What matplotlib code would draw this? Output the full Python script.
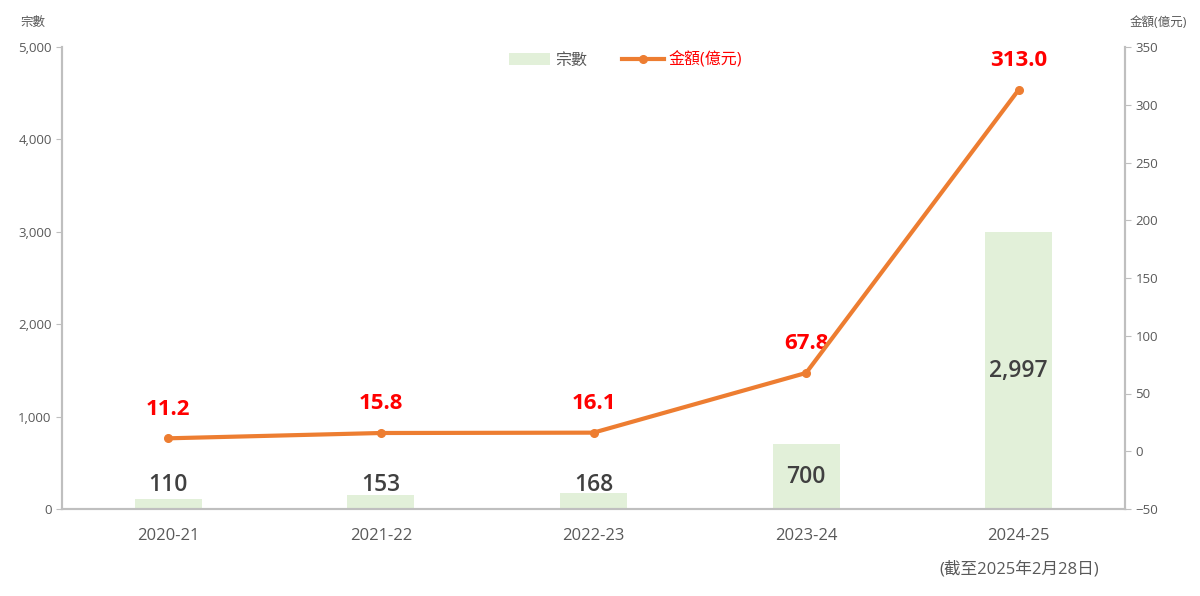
import matplotlib.pyplot as plt
from matplotlib.ticker import FuncFormatter
import numpy as np

plt.rcParams['font.family'] = ['Open Sans', 'Noto Sans CJK TC', 'DejaVu Sans']

# data
years = ['2020-21', '2021-22', '2022-23', '2023-24', '2024-25\n(截至2025年2月28日)']
cases = [110, 153, 168, 700, 2997]
amount = [11.2, 15.8, 16.1, 67.8, 313.0]

grey = '#595959'
axis_grey = '#BFBFBF'
bar_green = '#E2F0D9'
orange = '#ED7D31'

fig = plt.figure(figsize=(12, 5.96), dpi=100)
ax = fig.add_axes([62 / 1200, 87 / 596, 1063 / 1200, 462 / 596])
ax2 = ax.twinx()

x = np.arange(len(years))
ax.bar(x, cases, width=0.315, color=bar_green, zorder=1, label='宗數')
for xi, v in zip(x, cases):
    ax.text(xi, max(v / 2, 265), f'{v:,}', ha='center', va='center',
            fontsize=16.5, fontweight='semibold', color='#404040', zorder=3)

ax.set_xlim(-0.5, len(years) - 0.5)
ax.set_ylim(0, 5000)
ax.set_yticks(range(0, 5001, 1000))
ax.yaxis.set_major_formatter(FuncFormatter(lambda v, p: f'{int(v):,}'))
ax.set_xticks(x)
ax.set_xticklabels(years, fontsize=12, color=grey, linespacing=2.3)
ax.tick_params(axis='x', length=0, pad=14)
ax.tick_params(axis='y', length=4, color=axis_grey, labelsize=9.5, labelcolor=grey, direction='out')

ax2.plot(x, amount, color=orange, lw=3, marker='o', ms=5.5, zorder=4, label='金額(億元)')
for xi, v in zip(x, amount):
    ax2.annotate(f'{v:.1f}', (xi, v), xytext=(0, 21), textcoords='offset points',
                 ha='center', va='center', fontsize=16, fontweight='bold', color='#FF0000')
ax2.set_ylim(-50, 350)
ax2.set_yticks(range(-50, 351, 50))
ax2.tick_params(axis='y', length=4, color=axis_grey, labelsize=9.5, labelcolor=grey, direction='out')

ax.set_zorder(ax2.get_zorder() - 1)
ax2.patch.set_visible(False)

for a in (ax, ax2):
    a.spines['top'].set_visible(False)
    for s in ('left', 'right', 'bottom'):
        a.spines[s].set_color(axis_grey)
        a.spines[s].set_linewidth(1.5)

fig.text(20 / 1200, 1 - 22 / 596, '宗數', fontsize=9, color=grey, va='center')
fig.text(1158 / 1200, 1 - 22 / 596, '金額(億元)', fontsize=9, color=grey, va='center', ha='center')

h1, l1 = ax.get_legend_handles_labels()
h2, l2 = ax2.get_legend_handles_labels()
leg = ax.legend(h1 + h2, l1 + l2, loc='upper center', bbox_to_anchor=(0.53, 1.02),
                ncol=2, frameon=False, fontsize=11.5, handlelength=2.6, columnspacing=2.2,
                handletextpad=0.3)
leg.get_texts()[0].set_color(grey)
leg.get_texts()[1].set_color('#FF0000')

fig.savefig('out.png', dpi=100)
